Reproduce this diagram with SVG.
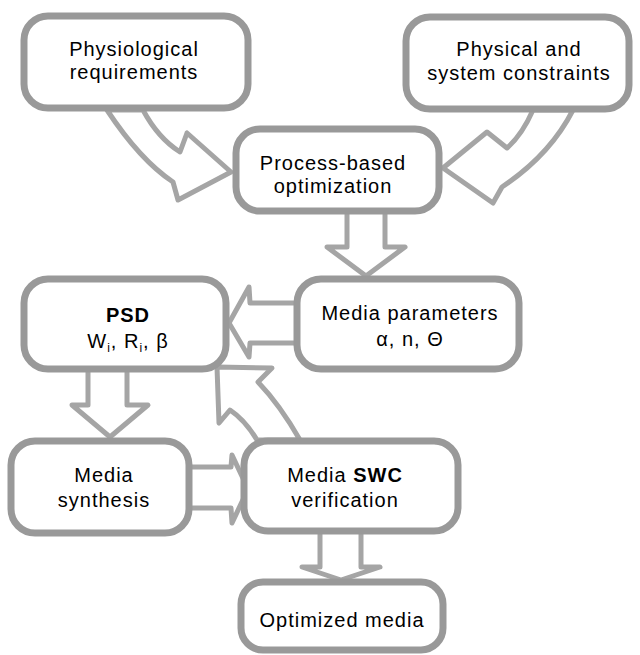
<svg xmlns="http://www.w3.org/2000/svg" width="640" height="655" viewBox="0 0 640 655">
<style>
.box{fill:#fff;stroke:#999;stroke-width:7}
.arr{fill:#fff;stroke:#a5a5a5;stroke-width:5;stroke-linejoin:round}
text{font-family:"Liberation Sans",Arial,sans-serif;font-size:20px;letter-spacing:1px;fill:#000;text-anchor:middle}
.b{font-weight:bold}
.sub{font-size:12px}
</style>
<rect width="640" height="655" fill="#fff"/>
<g id="connectors">
<path class="arr" d="M107,110 Q140,160 173,182 L178,200 L231,172 L187,133 L180,152 Q158,138 143,110 Z"/>
<path class="arr" d="M533,110 Q522,135 507,148 L487,132 L443,168 L493,203 L502,187 Q550,155 573,110 Z"/>
<path class="arr" d="M347,211 L347,247 L327,247 L366,276 L405,247 L385,247 L385,211 Z"/>
<path class="arr" d="M297,303 L250,303 L249,287 L229,323 L249,357 L250,343 L297,343 Z"/>
<path class="arr" d="M88,369 L88,405 L72,405 L110,437 L148,405 L127,405 L127,369 Z"/>
<path class="arr" d="M189,467 L231,467 L232,455 L248,489 L232,523 L231,508 L189,508 Z"/>
<path class="arr" d="M320,531 L320,567 L302,567 L341,580 L380,567 L361,567 L361,531 Z"/>
<path class="arr" d="M217,367 L272,368 L258,382 Q280,405 300,440 L257,440 Q245,420 230,410 L219,423 Z"/>
</g>
<g id="physiological">
<rect class="box" x="24" y="16" width="224" height="92" rx="24"/>
<text x="134" y="56">Physiological</text>
<text x="134" y="79">requirements</text>
</g>
<g id="physical">
<rect class="box" x="406" y="17" width="223" height="92" rx="24"/>
<text x="519" y="56">Physical and</text>
<text x="519" y="80">system constraints</text>
</g>
<g id="process">
<rect class="box" x="236" y="129" width="203" height="82" rx="24"/>
<text x="333" y="170">Process-based</text>
<text x="333" y="193">optimization</text>
</g>
<g id="psd">
<rect class="box" x="24" y="279" width="202" height="90" rx="24"/>
<text class="b" x="128" y="322">PSD</text>
<text x="128" y="348">W<tspan class="sub" dy="4">i</tspan><tspan dy="-4">, R</tspan><tspan class="sub" dy="4">i</tspan><tspan dy="-4">, β</tspan></text>
</g>
<g id="media-params">
<rect class="box" x="297" y="279" width="222" height="90" rx="24"/>
<text x="410" y="320">Media parameters</text>
<text x="410" y="346">α, n, Θ</text>
</g>
<g id="synthesis">
<rect class="box" x="11" y="441" width="178" height="92" rx="24"/>
<text x="104" y="482">Media</text>
<text x="104" y="507">synthesis</text>
</g>
<g id="swc">
<rect class="box" x="244" y="441" width="214" height="90" rx="24"/>
<text x="345" y="482">Media <tspan class="b">SWC</tspan></text>
<text x="345" y="507">verification</text>
</g>
<g id="optimized">
<rect class="box" x="241" y="582" width="202" height="68" rx="22"/>
<text x="342" y="627">Optimized media</text>
</g>
</svg>
